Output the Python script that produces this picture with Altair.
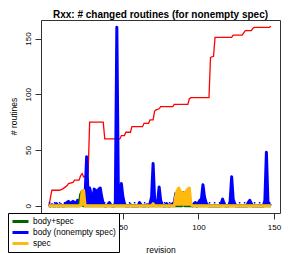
import altair as alt
import pandas as pd

revisions = list(range(1, 149))

# body (nonempty spec) - blue
body_nonempty = [
    0, 0, 1, 0, 0, 2, 0, 0, 1, 0,
    0, 2, 3, 4, 2, 3, 4, 3, 2, 5,
    4, 3, 2, 2, 10, 44, 8, 16, 10, 4,
    15, 14, 5, 15, 16, 8, 2, 0, 0, 1,
    3, 1, 0, 0, 2, 160, 12, 4, 20, 8,
    2, 0, 0, 0, 1, 0, 0, 0, 0, 0,
    3, 1, 0, 0, 0, 1, 0, 2, 8, 38,
    6, 2, 4, 17, 5, 1, 0, 0, 2, 0,
    0, 1, 2, 3, 11, 2, 2, 3, 2, 2,
    2, 2, 2, 2, 1, 0, 2, 3, 0, 3,
    5, 6, 19, 8, 3, 1, 0, 0, 0, 0,
    0, 0, 0, 0, 2, 6, 2, 0, 0, 0,
    4, 26, 6, 2, 0, 0, 0, 0, 0, 0,
    0, 0, 3, 5, 2, 0, 0, 0, 0, 0,
    0, 0, 0, 5, 48, 4, 1, 0,
]

# body+spec - dark green
body_spec = [0] * 148
for r, v in [(22, 10), (23, 13), (90, 12)]:
    body_spec[r - 1] = v

# spec - orange
spec = [0] * 148
for r, v in [(23, 13), (24, 14), (70, 2), (85, 9), (86, 14), (87, 16), (88, 13),
             (89, 12), (90, 11), (91, 12), (92, 13), (93, 15), (94, 16), (95, 2)]:
    spec[r - 1] = v

# red cumulative line
red_rev = [1, 3, 8, 10, 12, 13, 14, 17, 18, 21, 22, 23, 24, 26, 27, 28, 37, 38, 48, 49,
           51, 52, 55, 56, 63, 64, 67, 68, 70, 71, 72, 74, 75, 83, 84, 93, 94, 95, 107,
           108, 110, 111, 122, 123, 129, 130, 131, 135, 136, 137, 147, 148]
red_val = [0, 14, 14, 15, 17, 18, 20, 21, 23, 23, 27, 29, 26, 27, 29, 75, 75, 60, 60, 63,
           63, 66, 66, 71, 71, 74, 74, 77, 77, 85, 86, 87, 89, 89, 91, 91, 96, 97, 97,
           133, 134, 151, 151, 153, 153, 155, 157, 157, 159, 160, 160, 161]

dotted_rev = [1, 148]
dotted_val = [2.7, 2.7]

series_names = ["body+spec", "body (nonempty spec)", "spec"]
series_colors = ["#006400", "#0000FF", "#FFB90F"]

long_df = pd.DataFrame({
    "revision": revisions * 3,
    "value": body_spec + body_nonempty + spec,
    "series": [series_names[0]] * 148 + [series_names[1]] * 148 + [series_names[2]] * 148,
})
red_df = pd.DataFrame({"revision": red_rev, "value": red_val})
dot_df = pd.DataFrame({"revision": dotted_rev, "value": dotted_val})

FONT = "Liberation Sans"

x = alt.X(
    "revision:Q",
    scale=alt.Scale(domain=[-4.2, 154.0], nice=False, zero=False),
    axis=alt.Axis(values=[50, 100, 150], title="revision", labelFlush=False,
                  labelOverlap=False, labelPadding=4, titleY=32, titleBaseline="top"),
)
y_axis = alt.Axis(values=[0, 50, 100, 150], title="# routines", labelAngle=270,
                  labelAlign="center", labelBaseline="bottom", labelPadding=3,
                  titleAngle=270, titleX=-32, titleY=96, titleAlign="center",
                  titleBaseline="top")
y_scale = alt.Scale(domain=[-6.4, 166.6], nice=False, zero=False)
y = alt.Y("value:Q", scale=y_scale, axis=y_axis, stack=None)

color_scale = alt.Scale(domain=series_names, range=series_colors)
color = alt.Color(
    "series:N",
    scale=color_scale,
    legend=alt.Legend(
        orient="none", legendX=-33, legendY=193, title=None,
        symbolType="stroke", symbolSize=256, symbolStrokeWidth=3,
        clipHeight=10.8, rowPadding=0, labelOffset=3, labelFontSize=8.4,
        labelFont=FONT, labelColor="black", padding=3,
        strokeColor="black", fillColor="white",
    ),
)

red = alt.Chart(red_df).mark_line(color="#FF0000", strokeWidth=1.3).encode(x=x, y=y)
dotted = alt.Chart(dot_df).mark_line(
    color="#0000FF", strokeDash=[1.5, 3.5], strokeWidth=1.5
).encode(x=x, y=y)

line_base = alt.Chart(long_df).mark_line(strokeWidth=3, strokeJoin="round").encode(
    x=x, y=y, color=color
)

layers = [red, dotted]
for idx in [1, 0, 2]:
    name = series_names[idx]
    layers.append(
        alt.Chart(long_df).mark_area(color=series_colors[idx], opacity=1)
        .encode(x=x, y=y, y2=alt.datum(0))
        .transform_filter(alt.datum.series == name)
    )
    layers.append(line_base.transform_filter(alt.datum.series == name))

chart = alt.layer(*layers).properties(
    width=239,
    height=193,
    title=alt.TitleParams(
        "Rxx: # changed routines (for nonempty spec)", fontSize=10, fontWeight="bold",
        font=FONT, offset=0, anchor="middle", color="black",
    ),
    autosize=alt.AutoSizeParams(type="none"),
    padding={"left": 33, "top": 12, "right": 6, "bottom": 41},
).configure_view(
    stroke="#333", strokeWidth=1
).configure_axis(
    domain=False, grid=False, tickColor="#333", tickSize=6, labelFont=FONT,
    labelFontSize=8, labelColor="black", titleFont=FONT, titleFontSize=8.5,
    titleFontWeight="normal", titleColor="black",
)

chart.save("out.html", embed_options={"renderer": "svg", "actions": False})
